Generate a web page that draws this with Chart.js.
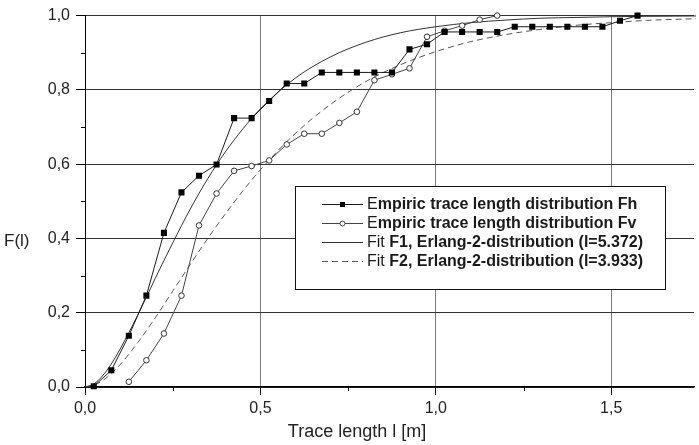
<!DOCTYPE html>
<html><head><meta charset="utf-8">
<script src="https://cdn.jsdelivr.net/npm/chart.js@4"></script>
<style>html,body{margin:0;padding:0;background:#fff}#wrap{position:relative;width:699px;height:445px}</style>
</head><body><div id="wrap"><canvas id="c" width="699" height="445"></canvas></div>
<script>
// ---- data ----
const xTickValues = [0, 0.5, 1.0, 1.5];
const yTickValues = [0, 0.2, 0.4, 0.6, 0.8, 1.0];
const xMinorTicks = [0.25, 0.75, 1.25];
const yMinorTicks = [0.1, 0.3, 0.5, 0.7, 0.9];

const fhX = [0.025,0.075,0.125,0.175,0.225,0.275,0.325,0.375,0.425,0.475,0.525,0.575,0.625,0.675,0.725,0.775,0.825,0.875,0.925,0.975,1.025,1.075,1.125,1.175,1.225,1.275,1.325,1.375,1.425,1.475,1.525,1.575];
const fhY = [0.002,0.045,0.138,0.246,0.415,0.524,0.569,0.599,0.724,0.724,0.770,0.817,0.817,0.847,0.847,0.847,0.847,0.847,0.909,0.923,0.956,0.956,0.956,0.956,0.970,0.970,0.970,0.970,0.970,0.970,0.986,1.0];

const fvX = [0.125,0.175,0.225,0.275,0.325,0.375,0.425,0.475,0.525,0.575,0.625,0.675,0.725,0.775,0.825,0.875,0.925,0.975,1.025,1.075,1.125,1.175];
const fvY = [0.014,0.072,0.144,0.246,0.435,0.521,0.582,0.595,0.610,0.653,0.682,0.682,0.711,0.741,0.826,0.842,0.858,0.943,0.959,0.973,0.989,1.0];

const fitX = [0,0.025,0.05,0.075,0.1,0.15,0.2,0.25,0.3,0.35,0.4,0.45,0.5,0.6,0.7,0.8,0.9,1.0,1.1,1.2,1.3,1.4,1.5,1.6,1.75];
const f1Y = [0,0.008,0.030,0.062,0.102,0.193,0.292,0.388,0.479,0.561,0.633,0.695,0.749,0.832,0.889,0.928,0.954,0.970,0.981,0.988,0.993,0.995,0.997,0.998,0.999];
const f2Y = [0,0.005,0.017,0.036,0.060,0.119,0.186,0.258,0.330,0.400,0.466,0.528,0.585,0.683,0.761,0.822,0.868,0.903,0.930,0.949,0.963,0.974,0.981,0.987,0.992];

const legendParts = [
  [["E", false], ["mpiric trace length distribution Fh", true]],
  [["E", false], ["mpiric trace length distribution Fv", true]],
  [["Fit ", false], ["F1, Erlang-2-distribution (l=5.372)", true]],
  [["Fit ", false], ["F2, Erlang-2-distribution (l=3.933)", true]]
];
const xTitle = "Trace length l [m]";
const yTitle = "F(l)";

const pts = (xs, ys) => xs.map((x, i) => ({x: x, y: ys[i]}));
const fmt = v => Number(v).toFixed(1).replace('.', ',');
const FONT = '"Liberation Sans", Arial, sans-serif';

const extras = {
  id: 'extras',
  afterDraw(chart) {
    const ctx = chart.ctx, xs = chart.scales.x, ys = chart.scales.y, a = chart.chartArea;
    ctx.save();
    // minor ticks
    ctx.strokeStyle = '#000'; ctx.lineWidth = 1;
    ctx.beginPath();
    yMinorTicks.forEach(v => { const p = Math.round(ys.getPixelForValue(v)) + 0.5; ctx.moveTo(a.left - 4, p); ctx.lineTo(a.left, p); });
    xMinorTicks.forEach(v => { const p = Math.round(xs.getPixelForValue(v)) + 0.5; ctx.moveTo(p, a.bottom); ctx.lineTo(p, a.bottom + 4); });
    ctx.stroke();
    // axis titles
    ctx.fillStyle = '#222';
    ctx.font = '18px ' + FONT;
    ctx.textAlign = 'center'; ctx.textBaseline = 'middle';
    ctx.fillText(xTitle, 357, 432);
    ctx.font = '17px ' + FONT;
    ctx.textAlign = 'left';
    ctx.fillText(yTitle, 4, 241);
    // legend
    const bx = 295.5, by = 186.5, bw = 370, bh = 103;
    ctx.fillStyle = '#fff'; ctx.fillRect(bx, by, bw, bh);
    ctx.strokeStyle = '#111'; ctx.lineWidth = 1; ctx.strokeRect(bx, by, bw, bh);
    const rows = [204, 223, 242, 261];
    const dsets = chart.data.datasets;
    rows.forEach((ry, i) => {
      const ds = dsets[i];
      ctx.save();
      ctx.strokeStyle = ds.borderColor; ctx.lineWidth = 1;
      ctx.setLineDash(ds.borderDash || []);
      ctx.beginPath(); ctx.moveTo(322, ry + 0.5); ctx.lineTo(363, ry + 0.5); ctx.stroke();
      ctx.setLineDash([]);
      if (i === 0) { ctx.fillStyle = '#000'; ctx.fillRect(340, ry - 2, 5, 5); }
      if (i === 1) { ctx.fillStyle = '#fff'; ctx.beginPath(); ctx.arc(342.5, ry + 0.5, 2.5, 0, Math.PI * 2); ctx.fill(); ctx.stroke(); }
      ctx.restore();
      let tx = 367;
      ctx.fillStyle = '#1a1a1a'; ctx.textAlign = 'left'; ctx.textBaseline = 'middle';
      legendParts[i].forEach(([t, bold]) => {
        ctx.font = (bold ? 'bold ' : '') + '16px ' + FONT;
        ctx.fillText(t, tx, ry + 1);
        tx += ctx.measureText(t).width;
      });
    });
    ctx.restore();
  }
};

new Chart(document.getElementById('c'), {
  type: 'line',
  data: {
    datasets: [
      { label: 'Fh', data: pts(fhX, fhY), borderColor: '#1a1a1a', borderWidth: 1, pointStyle: 'rect', pointRadius: 4.3, pointBackgroundColor: '#000', pointBorderColor: '#000', pointBorderWidth: 0, order: 1, clip: 8 },
      { label: 'Fv', data: pts(fvX, fvY), borderColor: '#444', borderWidth: 1, pointStyle: 'circle', pointRadius: 2.8, pointBackgroundColor: '#fff', pointBorderColor: '#333', pointBorderWidth: 1, order: 2, clip: 8 },
      { label: 'F1', data: pts(fitX, f1Y), borderColor: '#333', borderWidth: 1, pointRadius: 0, cubicInterpolationMode: 'monotone', order: 3, clip: 2 },
      { label: 'F2', data: pts(fitX, f2Y), borderColor: '#555', borderWidth: 1, borderDash: [6, 4], pointRadius: 0, cubicInterpolationMode: 'monotone', order: 4, clip: 2 }
    ]
  },
  options: {
    responsive: false, animation: false, devicePixelRatio: 1,
    layout: { padding: { top: 12, right: 0, left: 0, bottom: 0 } },
    plugins: { legend: { display: false }, tooltip: { enabled: false } },
    scales: {
      x: {
        type: 'linear', min: 0, max: 1.736,
        afterBuildTicks: s => { s.ticks = xTickValues.map(v => ({ value: v })); },
        afterFit: s => { s.height = 58; },
        ticks: { callback: v => fmt(v), color: '#222', font: { family: FONT, size: 16 }, padding: 4, maxRotation: 0, autoSkip: false },
        grid: { color: '#7a7a7a', lineWidth: 1, tickLength: 8, tickColor: '#000' },
        border: { color: '#000', width: 1.5 }
      },
      y: {
        min: 0, max: 1.0,
        afterBuildTicks: s => { s.ticks = yTickValues.map(v => ({ value: v })); },
        afterFit: s => { s.width = 85; },
        ticks: { callback: v => fmt(v), color: '#222', font: { family: FONT, size: 16 }, padding: 6, autoSkip: false },
        grid: { color: '#333', lineWidth: 1, tickLength: 9, tickColor: '#000' },
        border: { color: '#000', width: 1 }
      }
    }
  },
  plugins: [extras]
});
</script>
</body></html>
